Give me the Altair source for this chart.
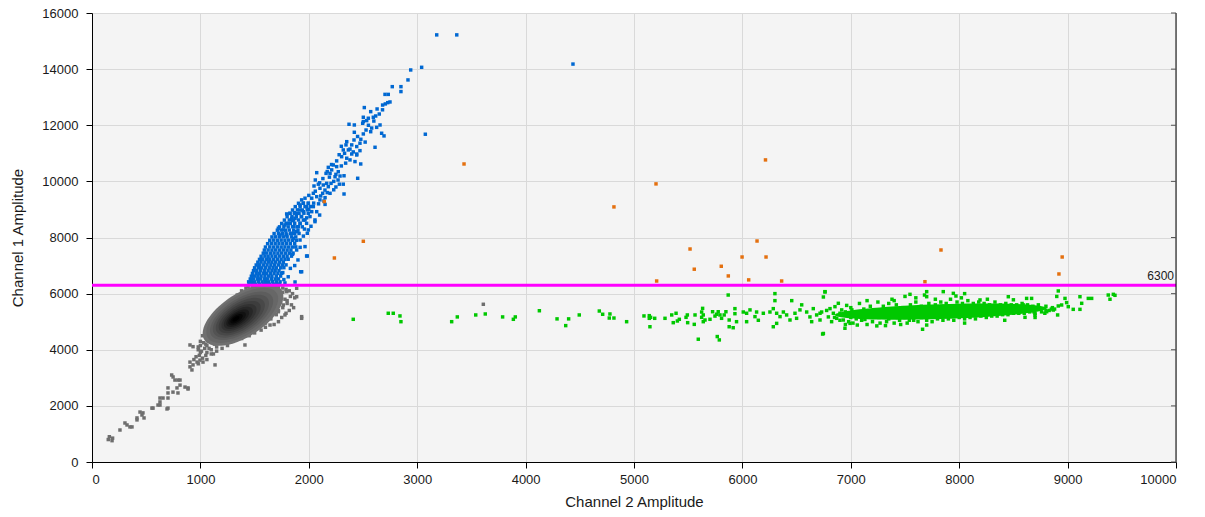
import altair as alt
import pandas as pd
import numpy as np

# ---------------- data ----------------
x_ticks = [0, 1000, 2000, 3000, 4000, 5000, 6000, 7000, 8000, 9000, 10000]
y_ticks = [0, 2000, 4000, 6000, 8000, 10000, 12000, 14000, 16000]
threshold = [6300]

# grey (negative/negative) droplets: tail and speckled edges of the cloud
gray_pts = [
    (160, 900), (150, 800), (185, 760), (190, 850), (258, 1140), (304, 1390), (323, 1320), (350, 1250),
    (369, 1250), (415, 1500), (415, 1570), (443, 1780), (461, 1675), (470, 1750), (480, 1570), (553, 1920),
    (563, 1920), (609, 2030), (627, 2140), (627, 2030), (627, 2280), (655, 2280), (692, 1890), (701, 2280),
    (701, 1920), (701, 2460), (701, 2640), (735, 3100), (747, 2490), (748, 3030), (765, 2920), (784, 2640),
    (793, 2920), (793, 2460), (812, 2740), (812, 2920), (858, 2670), (886, 2640), (886, 2600), (904, 3560),
    (932, 3460), (904, 3390), (922, 3280), (969, 3560), (996, 3630), (1024, 3560), (1135, 3460), (940, 3650),
    (960, 3750), (980, 3500), (990, 3800), (1020, 3700), (1060, 3650), (1120, 3850), (904, 4170), (932, 4110),
    (1411, 4170), (1642, 4880), (1934, 5120), (1934, 5180), (1888, 5890), (1780, 5240), (1796, 6070),
    (1765, 5595), (1888, 6190), (1719, 5355), (3610, 5620),
    (1440, 6250), (1480, 6270), (1520, 6240), (1560, 6260), (1600, 6280), (1640, 6250), (1680, 6270),
    (1720, 6240), (1760, 6200), (1790, 6150), (1820, 6100), (1850, 6000), (1830, 5900), (1870, 5850),
    (1800, 5750), (1840, 5600), (1860, 5500), (1820, 5400), (1790, 5300), (1750, 5150), (1720, 5000),
    (1680, 4900), (1600, 4800), (1560, 4700), (1500, 4600), (1450, 4500), (1380, 4400), (1300, 4300),
    (1250, 4150), (1200, 4050), (1150, 3950), (1100, 3850), (1050, 3800), (1000, 3900), (980, 4100),
    (1000, 4300), (1020, 4500), (1050, 4700), (1080, 4850), (1120, 5000), (1150, 5200), (1180, 5350),
    (1220, 5500), (1260, 5650), (1300, 5800), (1340, 5950), (1380, 6100), (1420, 6200),
    (1460, 6150), (1540, 6150), (1620, 6150), (1700, 6100), (1760, 6050), (1700, 5950), (1780, 5800),
    (1740, 5700), (1800, 5650), (1760, 5500), (1720, 5400), (1700, 5250), (1650, 5100), (1600, 4950),
    (1500, 4800), (1430, 4650), (1350, 4550), (1270, 4450), (1200, 4350), (1130, 4200), (1080, 4050),
    (1050, 4200), (1080, 4400), (1100, 4600), (1150, 4750), (1200, 4950), (1250, 5150), (1280, 5400),
    (1330, 5600), (1380, 5800), (1430, 6000), (1500, 6050), (1580, 6050), (1650, 6000),
    (980, 4000), (1010, 3950), (1040, 4050), (1000, 4150), (1060, 4150), (1030, 4250), (1090, 4300),
    (1120, 4400), (1150, 4450), (1070, 4500), (1190, 4500), (1230, 4550), (1060, 3900), (1100, 4000),
    (1150, 4100), (1180, 4250), (1250, 4350), (1300, 4450),
]

# density levels of the grey cloud (1 = outer, 12 = darkest centre)
core_x = [1393, 1386, 1380, 1374, 1368, 1362, 1356, 1350, 1344, 1338, 1333, 1328]
core_y = [5240, 5225, 5210, 5195, 5180, 5165, 5150, 5137, 5125, 5113, 5105, 5100]
core_level = [1, 2, 3, 4, 5, 6, 7, 8, 9, 10, 11, 12]

# blue (channel 1 positive) droplets
blue_pts = [
    # dense base, row by row
    (1450, 6330), (1480, 6335), (1510, 6330), (1545, 6335), (1580, 6330), (1610, 6335), (1640, 6330), (1675, 6335), (1705, 6330), (1730, 6335),
    (1445, 6420), (1470, 6425), (1500, 6420), (1535, 6425), (1570, 6420), (1600, 6425), (1630, 6420), (1665, 6425), (1700, 6420), (1735, 6420),
    (1460, 6520), (1490, 6525), (1525, 6520), (1555, 6525), (1590, 6520), (1620, 6525), (1655, 6520), (1690, 6520), (1720, 6525),
    (1470, 6620), (1500, 6625), (1530, 6620), (1560, 6625), (1595, 6620), (1630, 6625), (1660, 6620), (1700, 6620), (1740, 6625),
    (1480, 6720), (1515, 6725), (1545, 6720), (1580, 6725), (1610, 6720), (1645, 6725), (1680, 6720), (1715, 6720), (1750, 6725),
    (1490, 6820), (1520, 6825), (1555, 6820), (1590, 6825), (1625, 6820), (1660, 6825), (1690, 6820), (1725, 6820),
    (1500, 6920), (1535, 6925), (1565, 6920), (1600, 6925), (1635, 6920), (1670, 6925), (1700, 6920), (1740, 6920), (1770, 6925),
    (1515, 7020), (1545, 7025), (1580, 7020), (1615, 7025), (1650, 7020), (1685, 7025), (1720, 7020), (1755, 7020), (1790, 7025),
    (1530, 7120), (1560, 7125), (1595, 7120), (1630, 7125), (1660, 7120), (1695, 7125), (1730, 7120), (1765, 7120),
    (1545, 7220), (1575, 7225), (1610, 7220), (1640, 7225), (1675, 7220), (1710, 7225), (1745, 7220), (1780, 7220), (1810, 7225),
    (1560, 7330), (1595, 7335), (1625, 7330), (1660, 7335), (1695, 7330), (1730, 7335), (1765, 7330), (1800, 7330), (1840, 7335),
    (1580, 7440), (1610, 7445), (1645, 7440), (1680, 7445), (1715, 7440), (1750, 7445), (1785, 7440), (1820, 7440), (1855, 7445),
    (1590, 7550), (1625, 7555), (1660, 7550), (1695, 7555), (1730, 7550), (1765, 7555), (1800, 7550), (1835, 7550),
    (1600, 7660), (1640, 7665), (1675, 7660), (1710, 7665), (1745, 7660), (1780, 7665), (1815, 7660), (1850, 7660), (1880, 7665),
    (1620, 7780), (1655, 7785), (1690, 7780), (1725, 7785), (1760, 7780), (1795, 7785), (1830, 7780), (1870, 7780),
    (1640, 7900), (1675, 7905), (1710, 7900), (1745, 7905), (1780, 7900), (1815, 7905), (1850, 7900), (1885, 7900),
    (1660, 8020), (1695, 8025), (1730, 8020), (1765, 8025), (1800, 8020), (1840, 8025), (1880, 8020),
    (1680, 8140), (1720, 8145), (1755, 8140), (1790, 8145), (1830, 8140), (1870, 8140), (1910, 8145),
    (1710, 8260), (1745, 8265), (1785, 8260), (1820, 8265), (1860, 8260), (1900, 8260),
    (1730, 8380), (1770, 8385), (1810, 8380), (1850, 8385), (1890, 8380), (1940, 8380),
    (1750, 8500), (1790, 8505), (1830, 8500), (1870, 8505), (1920, 8500),
    (1775, 8620), (1820, 8625), (1860, 8620), (1905, 8625), (1950, 8620),
    (1800, 8740), (1845, 8745), (1885, 8740), (1930, 8745),
    (1825, 8860), (1870, 8865), (1910, 8860), (1955, 8865), (1995, 8860),
    (1850, 8980), (1895, 8985), (1940, 8980), (1985, 8985),
    (1875, 9100), (1920, 9105), (1965, 9100), (2015, 9105),
    (1905, 9220), (1950, 9225), (1995, 9220), (2045, 9225),
    # scattered upper part and outliers
    (3180, 15220), (3365, 15220), (4437, 14180), (3041, 14065), (2940, 13970), (2915, 13615), (2850, 13375),
    (2850, 13200), (2770, 13375), (2703, 13100), (2733, 13100), (2681, 12720), (2706, 12760), (2728, 12805),
    (2749, 12830), (2630, 12580), (2512, 12630), (2571, 12485), (2595, 12285), (2617, 12330), (2549, 12250),
    (2503, 12285), (2503, 12130), (2534, 12165), (2497, 12070), (2657, 12010), (2626, 11925), (2672, 11715),
    (2694, 11620), (2571, 11770), (2528, 11830), (2503, 11690), (2420, 12010), (2371, 12035), (3075, 11680),
    (2611, 11215), (2472, 11360), (2442, 11240), (2417, 11475), (2396, 11300), (2350, 11415), (2365, 11120),
    (2396, 10975), (2442, 10975), (2472, 11095), (2343, 11300), (2318, 11120), (2303, 10880), (2350, 10825),
    (2380, 10765), (2426, 10705), (2479, 10620), (2442, 10940), (2257, 10730), (2226, 10585), (2211, 10410),
    (2257, 10525), (2272, 10345), (2196, 10285), (2242, 10165), (2288, 10190), (2325, 10200), (2159, 10285),
    (2180, 10500), (2451, 10110), (2073, 10310), (2165, 9930), (2134, 9870), (2180, 9810), (2149, 9690),
    (2103, 9755), (2128, 9575), (2088, 9900), (2048, 9835), (2196, 9575), (2205, 9930), (2282, 9900),
    (2318, 9900), (2325, 9550), (2042, 9575), (2073, 9455), (2027, 9400), (2103, 9340), (2140, 9300),
    (1934, 9340), (1965, 9400), (1949, 9220), (1980, 9100), (1919, 9160), (1996, 9220), (2042, 9100),
    (2073, 8920), (2027, 8920), (2011, 8745), (1949, 8920), (1919, 8980), (1888, 8860), (1873, 8685),
    (1934, 8745), (1965, 8625), (2057, 8625), (2057, 8565), (1796, 8840), (1827, 8860), (1866, 8885),
    (1842, 8685), (1811, 8505), (1857, 8385), (1903, 8385), (1919, 8505), (1980, 8505), (1986, 8150),
    (1996, 8270), (1719, 8330), (1765, 8270), (1780, 8445), (1734, 8090), (1796, 8090), (1842, 8150),
    (1888, 8210), (1857, 7970), (1919, 7910), (1965, 7675), (1986, 7340), (1925, 6780), (1888, 7555),
    (1780, 6380), (1873, 6415), (1934, 6780), (1980, 7340),
    (2000, 9500), (2060, 9650), (2110, 9480), (2150, 9420), (2170, 9600), (2230, 9700), (2250, 9800),
    (2100, 9950), (2060, 10050), (2130, 10100), (2190, 10150), (2230, 10000), (2270, 10050), (2210, 10600),
    (2300, 10550), (2340, 10650), (2280, 10950), (2330, 11000), (2380, 11150), (2410, 11050), (2300, 11250),
    (2450, 11600), (2480, 11500), (2520, 11400), (2420, 11750), (2550, 12000), (2580, 11900), (2600, 12150),
    (2650, 12400), (2680, 12550), (2000, 9000), (2090, 9200), (2150, 9180), (2100, 8800), (1980, 8700),
    (2020, 8400), (1850, 8600), (1960, 8300), (1900, 7200), (1870, 7000), (1830, 6900), (1810, 6600),
    (1770, 6500), (1760, 6750), (1850, 7400), (1920, 7650), (1950, 8050), (2170, 10350), (2250, 10250),
]

# green (channel 2 positive) droplets
green_pts = [
    (2410, 5085), (2733, 5300), (2779, 5300), (2841, 5205), (2850, 5000), (3318, 5000), (3370, 5170),
    (3540, 5240), (3628, 5275), (3788, 5170), (3887, 5085), (3905, 5170), (4127, 5390), (4290, 5100),
    (4370, 4860), (4397, 5100), (4495, 5240), (4680, 5380), (4711, 5265), (4778, 5275), (4772, 5130),
    (4815, 5130), (4932, 5000), (5092, 5205), (5141, 5215), (5153, 5155), (5141, 5120), (5191, 5120),
    (5147, 4820), (5286, 5120), (5348, 5240), (5388, 5300), (5362, 4965), (5400, 5025), (5418, 5085),
    (5480, 5155), (5492, 5240), (5495, 4965), (5563, 5240), (5556, 4905), (5593, 4375), (5633, 5475),
    (5624, 5345), (5639, 5240), (5624, 5155), (5639, 5000), (5655, 5060), (5701, 5085), (5725, 5355),
    (5747, 5200), (5762, 5265), (5777, 5355), (5793, 5240), (5808, 5120), (5832, 5240), (5848, 5355),
    (5869, 5950), (5878, 5060), (5878, 4820), (5915, 4785), (5931, 5465), (5931, 5285), (5946, 5000),
    (5768, 4470), (5787, 4350), (6008, 5345), (6039, 5300), (6070, 5420), (6116, 5180), (6131, 5345),
    (6147, 5050), (6193, 5300), (6254, 5345), (6285, 5465), (6300, 6000), (6300, 5750), (6316, 5300),
    (6347, 5180), (6378, 5345), (6408, 5240), (6439, 5060), (6455, 5750), (6485, 5300), (6500, 5120),
    (6531, 5420), (6547, 5600), (6285, 4820), (6039, 5000), (6316, 4940), (6740, 4560), (6762, 6070),
    (6593, 5345), (6623, 5170), (6654, 5465), (6685, 5240), (6716, 5060), (6731, 5345), (6747, 4580),
    (6747, 5880), (6762, 6060), (6777, 5400), (6793, 5170), (6808, 5465), (6823, 5000), (6839, 5300),
    (6854, 5535), (6870, 5120), (6885, 5655), (6900, 5300), (6916, 5420), (6931, 5060), (6946, 4765),
    (6962, 5580), (6977, 5240), (6993, 4940), (6716, 5300), (6639, 5000),
    (7000, 5500), (7020, 4950), (7050, 5350), (7080, 5650), (7100, 5050), (7120, 5450), (7150, 4900),
    (7180, 5550), (7200, 5000), (7220, 5400), (7250, 5700), (7270, 4950), (7300, 5550), (7330, 5000),
    (7350, 5450), (7380, 5800), (7400, 4950), (7420, 5600), (7450, 5050), (7480, 5500), (7500, 5900),
    (7520, 4950), (7550, 5600), (7580, 5050), (7600, 5700), (7620, 5000), (7650, 5550), (7680, 5950),
    (7700, 5050), (7720, 5650), (7750, 5000), (7780, 5600), (7800, 5100), (7830, 5700), (7850, 5050),
    (7880, 5650), (7900, 5100), (7920, 5800), (7950, 5050), (7980, 5700), (8000, 5150), (8030, 5650),
    (8050, 5100), (8080, 5750), (8100, 5150), (8130, 5650), (8150, 5100), (8180, 5700), (8200, 5200),
    (8230, 5650), (8250, 5150), (8280, 5600), (8300, 5200), (8330, 5700), (8350, 5200), (8380, 5600),
    (8400, 5250), (8430, 5650), (8450, 5250), (8480, 5600), (8500, 5300), (8530, 5600), (8550, 5300),
    (8580, 5650), (8600, 5300), (8630, 5600), (8650, 5350), (8680, 5550), (8700, 5300), (8730, 5600),
    (8760, 5350), (8800, 5550), (8830, 5400), (8860, 5500), (8880, 5450),
    (7050, 5100), (7100, 5300), (7150, 5200), (7200, 5150), (7250, 5350), (7300, 5250), (7350, 5100),
    (7400, 5350), (7450, 5250), (7500, 5150), (7550, 5400), (7600, 5250), (7650, 5150), (7700, 5400),
    (7750, 5300), (7800, 5150), (7850, 5450), (7900, 5300), (7950, 5200), (8000, 5450), (8050, 5300),
    (8100, 5250), (8150, 5500), (8200, 5350), (8250, 5300), (8300, 5500), (8350, 5400), (8400, 5350),
    (8450, 5500), (8500, 5400), (8550, 5450), (8600, 5500), (8650, 5400), (8700, 5500), (8750, 5450),
    (8800, 5400), (8850, 5450), (6850, 5150), (6900, 5050), (6950, 5350), (7000, 5150), (6980, 5000),
    (7030, 5250), (7060, 4880), (7240, 4850), (7460, 4900), (7700, 4880), (8050, 4950), (8420, 5050),
    (8700, 5150), (6950, 4900), (7320, 4860), (7150, 5750), (7400, 5750), (7600, 5850), (7780, 5800),
    (8020, 5850), (8260, 5800), (8500, 5780), (8900, 5900), (8050, 6000), (7350, 5650),
    (7546, 5975), (7700, 6070), (7700, 5890), (7853, 6070), (7946, 6010), (7970, 5915), (8192, 5775),
    (8453, 5890), (8622, 5830), (8668, 5830), (8914, 6095), (8914, 5560), (8945, 5595), (8908, 5240),
    (7662, 4730), (8976, 5830), (8991, 5680), (9006, 5535), (9052, 5440), (9114, 5440), (9130, 5655),
    (9114, 5890), (9191, 5830), (9222, 5830), (9375, 5950), (9391, 5800), (9422, 5975), (9437, 5940),
    (8607, 5155), (8699, 5240), (8807, 5355), (8868, 5415),
    (7010, 5420), (7070, 5250), (7130, 5080), (7190, 5300), (7260, 5150), (7310, 5420), (7370, 5280),
    (7430, 5150), (7490, 5350), (7540, 5050), (7590, 5480), (7640, 5320), (7690, 5180), (7740, 5500),
    (7790, 5250), (7840, 5550), (7890, 5200), (7940, 5500), (7990, 5250), (8040, 5550), (8090, 5400),
    (8140, 5300), (8190, 5550), (8240, 5450), (8290, 5300), (8340, 5550), (8390, 5450), (8440, 5350),
    (8490, 5550), (8540, 5350), (8590, 5600), (8640, 5450), (8690, 5350), (8740, 5500), (8790, 5300),
]
green_core_x = [7830]
green_core_y = [5360]

# orange (double positive) droplets
orange_pts = [
    (2143, 9280), (2503, 7865), (2236, 7270), (3432, 10620), (4815, 9090), (5203, 9910), (6213, 10765),
    (5517, 7590), (5556, 6870), (5997, 7305), (6135, 7875), (6218, 7305), (5805, 6975), (5870, 6630),
    (5209, 6450), (6058, 6490), (6362, 6450), (7832, 7555), (8950, 7305), (8920, 6700), (7684, 6425),
]

# ---------------- helpers ----------------
def ellipse_path(angle_deg, aspect, n=72):
    th = np.radians(angle_deg)
    t = np.linspace(0, 2 * np.pi, n, endpoint=False)
    ex = np.cos(t) * np.cos(th) - aspect * np.sin(t) * np.sin(th)
    ey = np.cos(t) * np.sin(th) + aspect * np.sin(t) * np.cos(th)
    return "M" + " L".join(f"{a:.4f},{b:.4f}" for a, b in zip(ex, ey)) + " Z"


def pts_df(pts):
    return pd.DataFrame(pts, columns=["x", "y"])


FONT = "Liberation Sans"
W, H = 1084, 449

xscale = alt.Scale(domain=[0, 10000], nice=False, zero=False)
yscale = alt.Scale(domain=[0, 16000], nice=False, zero=False)

xaxis = alt.Axis(values=x_ticks, format="d", title="Channel 2 Amplitude", grid=True,
                 gridColor="#d9d9d9", gridWidth=1, domainColor="#000000", tickColor="#000000",
                 tickSize=6, labelPadding=5, labelFont=FONT, labelFontSize=13, labelColor="#1a1a1a",
                 titleFont=FONT, titleFontSize=15, titleFontWeight="normal", titleColor="#1a1a1a",
                 titlePadding=8)
yaxis = alt.Axis(values=y_ticks, format="d", title="Channel 1 Amplitude", grid=True,
                 gridColor="#d9d9d9", gridWidth=1, domainColor="#000000", tickColor="#000000",
                 tickSize=6, labelPadding=8, labelFont=FONT, labelFontSize=13, labelColor="#1a1a1a",
                 titleFont=FONT, titleFontSize=15, titleFontWeight="normal", titleColor="#1a1a1a",
                 titlePadding=16)

X = alt.X("x:Q", scale=xscale, axis=xaxis)
Y = alt.Y("y:Q", scale=yscale, axis=yaxis)

SQ = 12

gray_layer = alt.Chart(pts_df(gray_pts)).mark_square(size=SQ, color="#6e6e6e", opacity=1).encode(x=X, y=Y)

core_df = pd.DataFrame({"x": core_x, "y": core_y, "level": core_level})
core_colors = ["#707070", "#676767", "#5d5d5d", "#535353", "#484848", "#3d3d3d",
               "#323232", "#272727", "#1b1b1b", "#111111", "#070707", "#000000"]
core_sizes = [(2 * a) ** 2 for a in [46, 41, 36, 32, 28, 24, 20, 16.5, 13, 10, 7, 4]]
gray_core = alt.Chart(core_df).mark_point(
    shape=ellipse_path(-33, 0.47), filled=True, opacity=1, strokeWidth=0
).encode(
    x=X, y=Y,
    color=alt.Color("level:O", scale=alt.Scale(domain=core_level, range=core_colors), legend=None),
    size=alt.Size("level:Q", scale=alt.Scale(type="linear", domain=core_level, range=core_sizes),
                  legend=None),
    order=alt.Order("level:Q"),
)

green_layer = alt.Chart(pts_df(green_pts)).mark_square(size=SQ, color="#00c800", opacity=1).encode(x=X, y=Y)
green_core = alt.Chart(pd.DataFrame({"x": green_core_x, "y": green_core_y})).mark_point(
    shape=ellipse_path(-1.8, 0.07), filled=True, opacity=1, strokeWidth=0, color="#00c800",
    size=212 ** 2).encode(x=X, y=Y)

blue_layer = alt.Chart(pts_df(blue_pts)).mark_square(size=SQ, color="#0068d2", opacity=1).encode(x=X, y=Y)
orange_layer = alt.Chart(pts_df(orange_pts)).mark_square(size=SQ, color="#e4700f", opacity=1).encode(x=X, y=Y)

thr_df = pd.DataFrame({"y": threshold, "label": [str(v) for v in threshold]})
thr_rule = alt.Chart(thr_df).mark_rule(color="#ff00ff", strokeWidth=3).encode(
    y=Y, x=alt.value(0), x2=alt.value(W))
thr_text = alt.Chart(thr_df).mark_text(align="right", baseline="bottom", dy=-2, font=FONT,
                                       fontSize=12, color="#1a1a1a").encode(
    y=Y, x=alt.value(W - 2), text="label:N")

right_border = alt.Chart(pd.DataFrame({"y": [0]})).mark_rule(color="#000000", strokeWidth=1).encode(
    x=alt.value(W), y=alt.value(0), y2=alt.value(H))
right_ticks = alt.Chart(pd.DataFrame({"y": y_ticks})).mark_rule(color="#555555", strokeWidth=1).encode(
    y=Y, x=alt.value(W - 5), x2=alt.value(W))

chart = alt.layer(
    gray_layer, gray_core, green_layer, green_core, blue_layer, orange_layer,
    thr_rule, thr_text, right_border, right_ticks,
).properties(
    width=W, height=H,
    autosize=alt.AutoSizeParams(type="none"),
    padding={"left": 92, "top": 13, "right": 29, "bottom": 55},
    background="#ffffff",
).configure_view(fill="#f4f4f4", stroke=None)

chart.save("out.html", embed_options={"renderer": "svg", "actions": False})
